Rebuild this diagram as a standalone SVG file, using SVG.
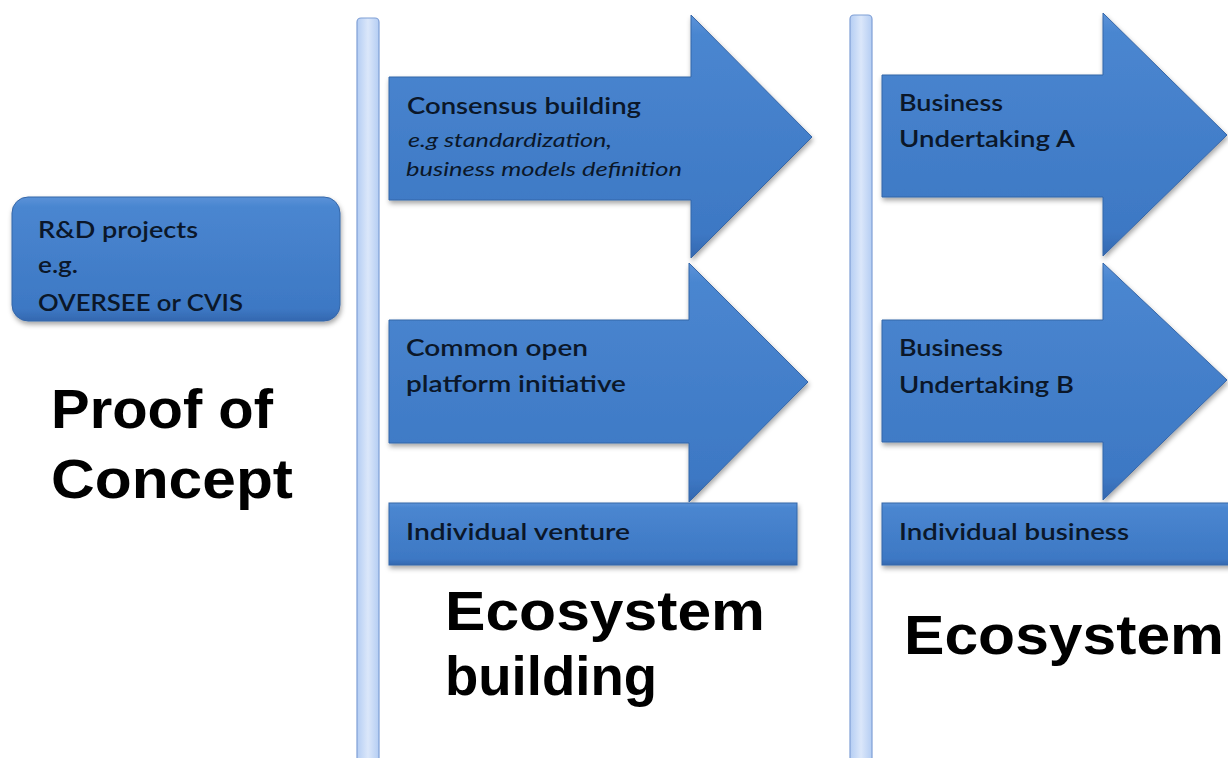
<svg xmlns="http://www.w3.org/2000/svg" width="1228" height="758" viewBox="0 0 1228 758">
  <style>
    .lbl { font-family: Lato, "Open Sans", sans-serif; font-size: 22px; font-weight: 600; fill: #0b1729; }
    .sub { font-family: Lato, "Open Sans", sans-serif; font-size: 20px; font-style: italic; fill: #0b1729; }
    .big { font-family: "Liberation Sans", Arial, sans-serif; font-size: 55px; font-weight: bold; fill: #000; }
    .shape { fill: url(#blueFill); stroke: #3566a8; stroke-width: 1; filter: url(#shadow); }
    .bar { fill: url(#barFill); stroke: #7f9fd6; stroke-width: 1.2; }
  </style>
  <defs>
    <linearGradient id="blueFill" x1="0" y1="0" x2="0" y2="1">
      <stop offset="0" stop-color="#5a92d8"/>
      <stop offset="0.08" stop-color="#4a86d0"/>
      <stop offset="0.9" stop-color="#3d78c4"/>
      <stop offset="1" stop-color="#3468b0"/>
    </linearGradient>
    <linearGradient id="barFill" x1="0" y1="0" x2="1" y2="0">
      <stop offset="0" stop-color="#b4cdf3"/>
      <stop offset="0.5" stop-color="#dbe7fa"/>
      <stop offset="1" stop-color="#b4cdf3"/>
    </linearGradient>
    <filter id="shadow" x="-10%" y="-10%" width="125%" height="130%">
      <feDropShadow dx="1" dy="3" stdDeviation="2.5" flood-color="#000" flood-opacity="0.35"/>
    </filter>
  </defs>

  <!-- stage separators -->
  <g id="separators">
    <rect class="bar" x="357" y="18" width="22" height="760" rx="4"/>
    <rect class="bar" x="850" y="15" width="22" height="760" rx="4"/>
  </g>

  <!-- proof of concept stage -->
  <g id="rd-projects">
    <rect class="shape" x="12" y="197" width="328" height="124" rx="16"/>
    <text class="lbl" x="38" y="238" textLength="160" lengthAdjust="spacingAndGlyphs">R&amp;D projects</text>
    <text class="lbl" x="38" y="273" textLength="40" lengthAdjust="spacingAndGlyphs">e.g.</text>
    <text class="lbl" x="38" y="311" textLength="205" lengthAdjust="spacingAndGlyphs">OVERSEE or CVIS</text>
  </g>
  <g id="proof-of-concept">
    <text class="big" x="51" y="428" textLength="222" lengthAdjust="spacingAndGlyphs">Proof of</text>
    <text class="big" x="51" y="498" textLength="242" lengthAdjust="spacingAndGlyphs">Concept</text>
  </g>

  <!-- ecosystem building stage -->
  <g id="consensus-building">
    <path class="shape" d="M389 77 H691 V15 L812 137 L691 258 V200 H389 Z"/>
    <text class="lbl" x="407" y="114" textLength="234" lengthAdjust="spacingAndGlyphs">Consensus building</text>
    <text class="sub" x="408" y="147" textLength="204" lengthAdjust="spacingAndGlyphs">e.g standardization,</text>
    <text class="sub" x="406" y="176" textLength="276" lengthAdjust="spacingAndGlyphs">business models definition</text>
  </g>
  <g id="common-platform">
    <path class="shape" d="M389 320 H689 V263 L808 382 L689 502 V443 H389 Z"/>
    <text class="lbl" x="406" y="356" textLength="182" lengthAdjust="spacingAndGlyphs">Common open</text>
    <text class="lbl" x="406" y="392" textLength="220" lengthAdjust="spacingAndGlyphs">platform initiative</text>
  </g>
  <g id="individual-venture">
    <rect class="shape" x="389" y="503" width="408" height="62"/>
    <text class="lbl" x="406" y="540" textLength="224" lengthAdjust="spacingAndGlyphs">Individual venture</text>
  </g>
  <g id="ecosystem-building-title">
    <text class="big" x="445" y="630" textLength="320" lengthAdjust="spacingAndGlyphs">Ecosystem</text>
    <text class="big" x="445" y="695" textLength="212" lengthAdjust="spacingAndGlyphs">building</text>
  </g>

  <!-- ecosystem stage -->
  <g id="business-a">
    <path class="shape" d="M882 75 H1103 V13 L1227 135 L1103 256 V197 H882 Z"/>
    <text class="lbl" x="899" y="111" textLength="104" lengthAdjust="spacingAndGlyphs">Business</text>
    <text class="lbl" x="899" y="147" textLength="176" lengthAdjust="spacingAndGlyphs">Undertaking A</text>
  </g>
  <g id="business-b">
    <path class="shape" d="M882 320 H1103 V263 L1227 380 L1103 500 V442 H882 Z"/>
    <text class="lbl" x="899" y="356" textLength="104" lengthAdjust="spacingAndGlyphs">Business</text>
    <text class="lbl" x="899" y="393" textLength="175" lengthAdjust="spacingAndGlyphs">Undertaking B</text>
  </g>
  <g id="individual-business">
    <rect class="shape" x="882" y="503" width="360" height="62"/>
    <text class="lbl" x="899" y="540" textLength="230" lengthAdjust="spacingAndGlyphs">Individual business</text>
  </g>
  <g id="ecosystem-title">
    <text class="big" x="904" y="654" textLength="320" lengthAdjust="spacingAndGlyphs">Ecosystem</text>
  </g>
</svg>
